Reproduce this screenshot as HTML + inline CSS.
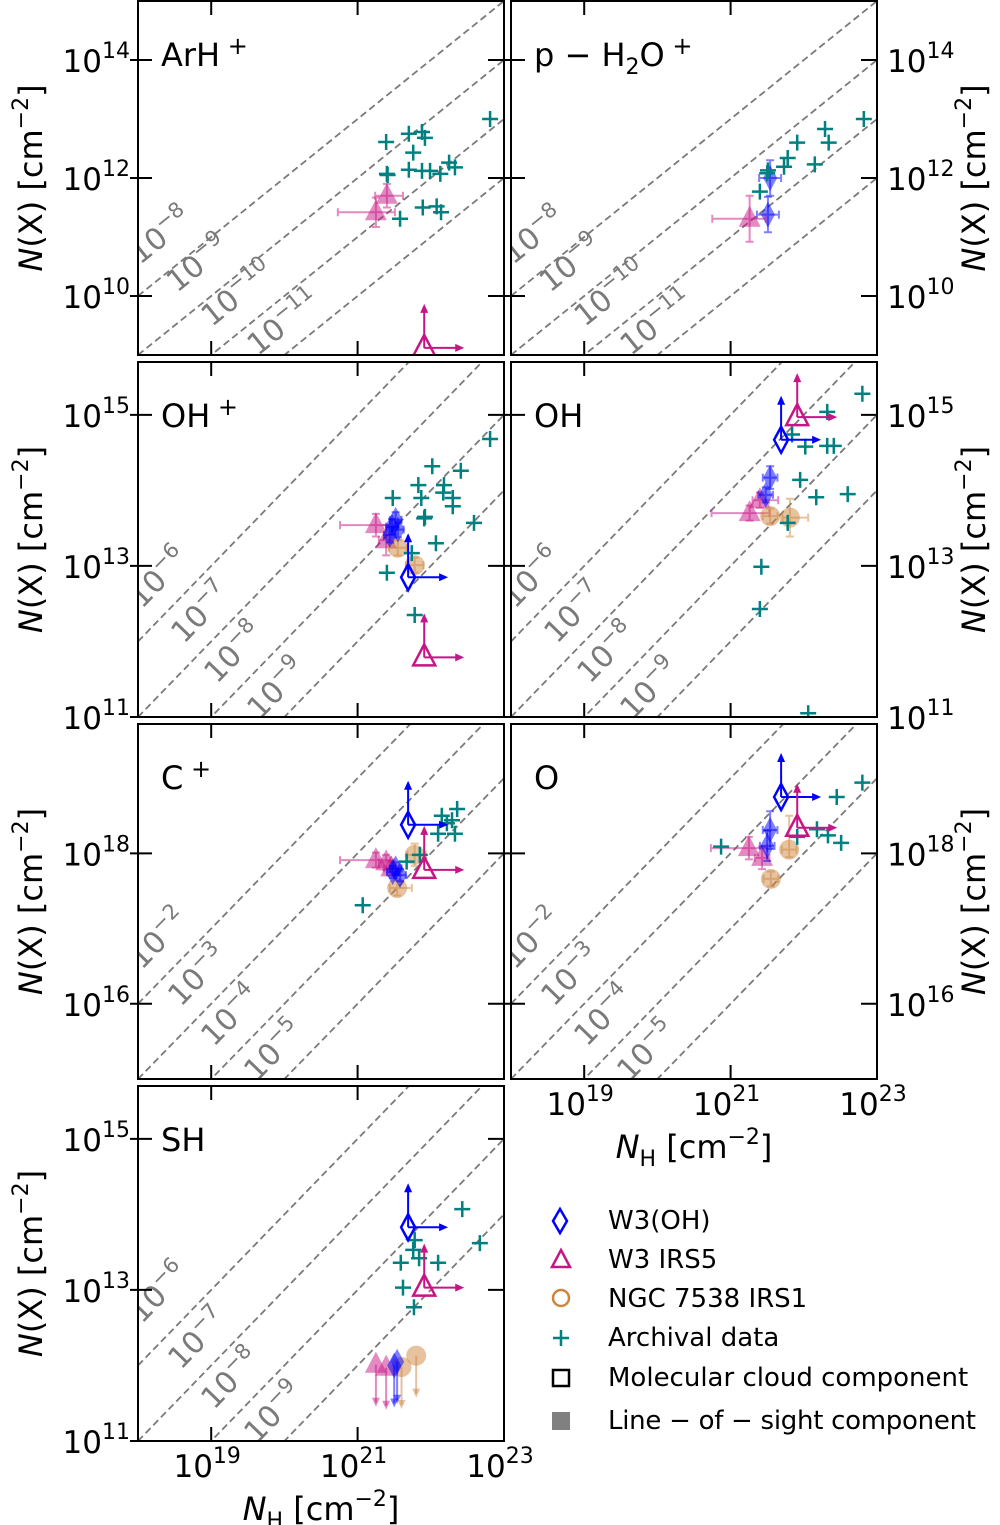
<!DOCTYPE html>
<html><head><meta charset="utf-8">
<style>
body{margin:0;background:#fff}
svg{display:block;font-family:"DejaVu Sans","Liberation Sans",sans-serif}
</style></head>
<body>
<svg id="fig" width="1000" height="1525" viewBox="0 0 1000 1525" xmlns="http://www.w3.org/2000/svg">
<g id="legend" font-size="26">
 <g><polygon points="560,1209 567,1221 560,1233 553,1221" fill="none" stroke="#0000ff" stroke-width="2.5"/><text x="608" y="1229">W3(OH)</text></g>
 <g><polygon points="561,1250 570,1267 552,1267" fill="none" stroke="#c71585" stroke-width="2.5"/><text x="608" y="1268">W3 IRS5</text></g>
 <g><circle cx="561" cy="1298" r="8" fill="none" stroke="#cd853f" stroke-width="2.5"/><text x="608" y="1307">NGC 7538 IRS1</text></g>
 <g><path d="M553 1338H569M561 1330V1346" stroke="#008080" stroke-width="2.5"/><text x="608" y="1346">Archival data</text></g>
 <g><rect x="553" y="1370" width="16" height="16" fill="none" stroke="#000" stroke-width="2.5"/><text x="608" y="1386">Molecular cloud component</text></g>
 <g><rect x="552" y="1412" width="18" height="18" fill="#808080"/><text x="608" y="1429" textLength="368">Line − of − sight component</text></g>
</g>
</svg>
<script>
// ---------- data (log10 values) ----------
const arhArchival=[[21.39,12.61],[21.70,12.75],[21.88,12.78],[21.92,12.68],[21.76,12.43],[21.40,12.07],[21.41,12.05],[21.70,12.14],[21.88,12.12],[21.99,12.12],[22.13,12.07],[22.25,12.26],[22.33,12.18],[22.81,13.00],[21.58,11.31],[21.89,11.50],[22.08,11.52],[22.14,11.42]];
const arhIrs5Los=[[21.40,11.70,0.16,0.22,0.2,0.2],[21.25,11.42,0.52,0.26,0.25,0.25]];
const arhIrs5Mc=[[21.91,9.12]];
const h2oArchival=[[22.82,13.00],[22.29,12.83],[21.91,12.60],[22.34,12.60],[21.78,12.34],[21.73,12.19],[21.51,12.13],[21.50,12.08],[22.15,12.23],[21.40,11.77]];
const h2oW3ohLos=[[21.54,12.0,0.15,0.15,0.3,0.3],[21.51,11.38,0.15,0.15,0.3,0.3]];
const h2oIrs5Los=[[21.26,11.31,0.51,0.22,0.39,0.39]];
const ohpArchival=[[22.81,14.68],[22.02,14.32],[22.41,14.26],[21.83,14.07],[22.18,14.07],[21.87,13.90],[22.17,13.97],[22.30,13.90],[22.30,13.79],[21.48,13.90],[21.92,13.65],[21.91,13.63],[22.07,13.30],[22.59,13.57],[21.74,13.17],[21.40,12.91],[21.78,12.35]];
const ohpW3ohLos=[[21.52,13.61,0.08,0.08,0.1,0.1],[21.47,13.52,0.08,0.08,0.1,0.1],[21.55,13.48,0.08,0.08,0.1,0.1],[21.44,13.41,0.08,0.08,0.1,0.1]];
const ohpIrs5Los=[[21.25,13.54,0.49,0.19,0.15,0.15],[21.39,13.34,0.1,0.1,0.2,0.2]];
const ohpNgcLos=[[21.55,13.24,0.12,0.12,0.1,0.1],[21.78,13.01,0.12,0.12,0.1,0.1]];
const ohpW3ohMc=[[21.69,12.85]];
const ohpIrs5Mc=[[21.91,11.79]];
const ohArchival=[[22.80,15.28],[22.32,15.04],[21.84,14.74],[22.02,14.58],[22.32,14.59],[22.41,14.59],[21.95,14.14],[22.17,13.91],[22.60,13.95],[21.78,13.57],[21.42,12.99],[21.40,12.43],[22.06,11.05]];
const ohW3ohLos=[[21.54,14.17,0.1,0.1,0.15,0.15],[21.48,13.94,0.1,0.1,0.1,0.1]];
const ohIrs5Los=[[21.40,13.87,0.1,0.25,0.1,0.1],[21.26,13.70,0.52,0.27,0.1,0.1]];
const ohNgcLos=[[21.54,13.66,0.1,0.1,0.1,0.1],[21.81,13.64,0.1,0.25,0.25,0.25]];
const ohW3ohMc=[[21.69,14.67]];
const ohIrs5Mc=[[21.91,14.97]];
const cpArchival=[[22.36,18.59],[22.15,18.50],[22.29,18.44],[22.10,18.26],[22.33,18.26],[22.22,18.40],[21.07,17.31],[21.67,17.89],[21.85,17.98]];
const cpW3ohLos=[[21.48,17.75,0.08,0.08,0.08,0.08],[21.58,17.71,0.08,0.08,0.08,0.08],[21.52,17.80,0.08,0.08,0.08,0.08]];
const cpIrs5Los=[[21.25,17.91,0.49,0.2,0.1,0.1],[21.39,17.88,0.1,0.1,0.1,0.1],[21.46,17.80,0.1,0.1,0.1,0.1]];
const cpNgcLos=[[21.78,17.98,0.1,0.15,0.15,0.15],[21.54,17.54,0.1,0.2,0.1,0.1]];
const cpW3ohMc=[[21.69,18.38]];
const cpIrs5Mc=[[21.91,17.78]];
const oArchival=[[22.80,18.94],[22.45,18.75],[22.18,18.32],[22.33,18.24],[22.51,18.14],[21.91,18.22],[20.87,18.09]];
const oW3ohLos=[[21.54,18.31,0.1,0.1,0.25,0.25],[21.50,18.10,0.1,0.1,0.2,0.2]];
const oIrs5Los=[[21.25,18.07,0.52,0.25,0.15,0.15],[21.43,17.94,0.1,0.1,0.15,0.15]];
const oNgcLos=[[21.80,18.05,0.1,0.1,0.1,0.45],[21.55,17.66,0.1,0.1,0.1,0.1]];
const oW3ohMc=[[21.69,18.75]];
const oIrs5Mc=[[21.91,18.34]];
const shArchival=[[22.43,14.07],[22.67,13.62],[21.78,13.66],[21.76,13.53],[21.84,13.42],[21.59,13.36],[22.10,13.36],[21.62,13.03],[21.77,12.77]];
const shW3ohMc=[[21.69,13.83]];
const shIrs5Mc=[[21.91,13.03]];
const shIrs5Ul=[[21.25,12.01],[21.39,11.97]];
const shW3ohUl=[[21.54,12.05],[21.50,12.0]];
const shNgcUl=[[21.80,12.13],[21.60,11.98]];
const ratiosA=[-8,-9,-10,-11];
const ratiosB=[-6,-7,-8,-9];
const ratiosC=[-2,-3,-4,-5];

// ---------- drawing ----------
const NS='http://www.w3.org/2000/svg';
const svg=document.getElementById('fig');
const BLUE='#0000ff',PINK='#c71585',ORNG='#cd853f',TEAL='#008080';
function mk(tag,attrs,parent){const e=document.createElementNS(NS,tag);for(const k in attrs)e.setAttribute(k,attrs[k]);(parent||svg).appendChild(e);return e;}

function panel(c){
  const g=mk('g',{});
  
  
  const sx=lx=>c.x0+(lx-18)/5*(c.x1-c.x0);
  const sy=ly=>c.y1-(ly-c.lo)/(c.hi-c.lo)*(c.y1-c.y0);
  const cid='clip-'+c.name;
  const cp=mk('clipPath',{id:cid},g);mk('rect',{x:c.x0,y:c.y0,width:c.x1-c.x0,height:c.y1-c.y0},cp);
  const plot=mk('g',{'clip-path':'url(#'+cid+')'},g);
  const ang=-Math.atan((sy(0)-sy(1))/(sx(1)-sx(0)))*180/Math.PI;
  c.ratios.forEach((r,i)=>{
    const ln=mk('line',{x1:sx(18),y1:sy(18+r),x2:sx(23),y2:sy(23+r),stroke:'#7a7a7a','stroke-width':1.8,'stroke-dasharray':'7,4'},plot);
    
    
    const p=c.lbl[i];
    const t=mk('text',{x:p[0],y:p[1]+11,fill:'#7a7a7a','font-size':30,'text-anchor':'middle',transform:`rotate(${ang} ${p[0]} ${p[1]})`},plot);
    
    
    t.innerHTML=`10<tspan dy="-13" font-size="21">−${-r}</tspan>`;
  });
  const drawErr=(x,y,d,col)=>{
    const a=sx(x-d[2]),b=sx(x+d[3]),u=sy(y+d[5]),v=sy(y-d[4]);
    const X=sx(x),Y=sy(y);
    mk('path',{d:`M${a} ${Y}H${b}M${a} ${Y-4}V${Y+4}M${b} ${Y-4}V${Y+4}M${X} ${u}V${v}M${X-4} ${u}H${X+4}M${X-4} ${v}H${X+4}`,stroke:col,'stroke-width':2,fill:'none',opacity:0.5},plot);
  };
  const shape=(kind,X,Y,col,filled)=>{
    const st=filled?{fill:col,'fill-opacity':0.5,stroke:'none'}:{fill:'none',stroke:col,'stroke-width':2.5};
    if(kind==='d')return mk('polygon',Object.assign({points:`${X},${Y-13} ${X+7},${Y} ${X},${Y+13} ${X-7},${Y}`},st),plot);
    if(kind==='t')return mk('polygon',Object.assign({points:`${X},${Y-13} ${X+11},${Y+8} ${X-11},${Y+8}`},st),plot);
    return mk('circle',Object.assign({cx:X,cy:Y,r:10},st),plot);
  };
  const arrow=(X,Y,dx,dy,col,op)=>{
    const ex=X+dx,ey=Y+dy;
    mk('line',{x1:X,y1:Y,x2:ex,y2:ey,stroke:col,'stroke-width':2,opacity:op},plot);
    let pts;
    if(dy<0)pts=`${ex},${ey-4} ${ex+4},${ey+5} ${ex-4},${ey+5}`;
    else if(dy>0)pts=`${ex},${ey+4} ${ex+4},${ey-5} ${ex-4},${ey-5}`;
    else pts=`${ex+4},${ey} ${ex-5},${ey-4} ${ex-5},${ey+4}`;
    mk('polygon',{points:pts,fill:col,opacity:op},plot);
  };
  (c.los||[]).forEach(s=>s.data.forEach(d=>{
    drawErr(d[0],d[1],d,s.col);
    const m=shape(s.kind,sx(d[0]),sy(d[1]),s.col,true);
    
    
  }));
  (c.ul||[]).forEach(s=>s.data.forEach(d=>{
    const X=sx(d[0]),Y=sy(d[1]);
    arrow(X,Y,0,38,s.col,0.5);
    const m=shape(s.kind,X,Y,s.col,true);
    
    
  }));
  (c.arch||[]).forEach(d=>{
    const X=sx(d[0]),Y=sy(d[1]);
    const m=mk('path',{d:`M${X-8} ${Y}H${X+8}M${X} ${Y-8}V${Y+8}`,stroke:TEAL,'stroke-width':2.5},plot);
    
    
  });
  (c.mc||[]).forEach(s=>s.data.forEach(d=>{
    const X=sx(d[0]),Y=sy(d[1]);
    arrow(X,Y,0,-40,s.col,1);arrow(X,Y,36,0,s.col,1);
    const m=shape(s.kind,X,Y,s.col,false);
    
    
  }));
  const fr=mk('rect',{x:c.x0,y:c.y0,width:c.x1-c.x0,height:c.y1-c.y0,fill:'none',stroke:'#000','stroke-width':2},g);
  
  
  [19,21,23].forEach(t=>{const X=sx(t);mk('path',{d:`M${X} ${c.y0}v14M${X} ${c.y1}v-14`,stroke:'#000','stroke-width':2},g);});
  c.yt.forEach(t=>{const Y=sy(t);mk('path',{d:`M${c.x0-8} ${Y}h22M${c.x1} ${Y}h-16`,stroke:'#000','stroke-width':2},g);
    if(c.ylab){
      const lbl=c.ylab==='l'?mk('text',{x:c.x0-8,y:Y+12,'text-anchor':'end','font-size':31},g):mk('text',{x:c.x1+10,y:Y+12,'font-size':31},g);
      
      
      lbl.innerHTML=`10<tspan dy="-14" font-size="22">${t}</tspan>`;
    }});
  if(c.xlab){[19,21,23].forEach(t=>{const X=sx(t);
    const lbl=mk('text',{x:X-4,y:c.y1+36,'text-anchor':'middle','font-size':31},g);
    
    
    lbl.innerHTML=`10<tspan dy="-14" font-size="22">${t}</tspan>`;});
    const xt=mk('text',{x:(c.x0+c.x1)/2,y:c.y1+79,'text-anchor':'middle','font-size':32},g);
    
    
    xt.innerHTML=`<tspan font-style="italic">N</tspan><tspan font-size="22" dy="8">H</tspan><tspan dy="-8"> [cm</tspan><tspan font-size="22" dy="-14">−2</tspan><tspan dy="14">]</tspan>`;
  }
  if(c.ylab){
    const cx=c.ylab==='l'?42:985, cy=(c.y0+c.y1)/2;
    const yt=mk('text',{x:cx,y:cy,'text-anchor':'middle','font-size':32,transform:`rotate(-90 ${cx} ${cy})`},g);
    
    
    yt.innerHTML=`<tspan font-style="italic">N</tspan>(X) [cm<tspan font-size="22" dy="-14">−2</tspan><tspan dy="14">]</tspan>`;
  }
  const tt=mk('text',{x:c.x0+23,y:c.y0+65,'font-size':32},g);
  
  
  tt.innerHTML=c.title;
}
const L=[138,504],R=[511,877];
const lblA=[[160,235],[197,263],[237,293],[283,322]];
const lblB=[[158,577],[200,612],[233,652],[276,688]];
const lblC=[[158,938],[197,975],[230,1015],[273,1050]];
const lblD=[[158,1292],[197,1338],[230,1378],[273,1412]];
const sh=(a,dx)=>a.map(p=>[p[0]+dx,p[1]]);
panel({name:'panel-arh',x0:L[0],x1:L[1],y0:1,y1:355,lo:9,hi:15,ratios:ratiosA,lbl:lblA,yt:[10,12,14],ylab:'l',title:'ArH<tspan dy="-12" font-size="24"> +</tspan>',
 arch:arhArchival,los:[{data:arhIrs5Los,col:PINK,kind:'t'}],mc:[{data:arhIrs5Mc,col:PINK,kind:'t'}]});
panel({name:'panel-ph2o',x0:R[0],x1:R[1],y0:1,y1:355,lo:9,hi:15,ratios:ratiosA,lbl:sh(lblA,373),yt:[10,12,14],ylab:'r',title:'p − H<tspan dy="8" font-size="22">2</tspan><tspan dy="-8">O</tspan><tspan dy="-12" font-size="24"> +</tspan>',
 arch:h2oArchival,los:[{data:h2oW3ohLos,col:BLUE,kind:'d'},{data:h2oIrs5Los,col:PINK,kind:'t'}]});
panel({name:'panel-ohp',x0:L[0],x1:L[1],y0:362,y1:717,lo:11,hi:15.7,ratios:ratiosB,lbl:lblB,yt:[11,13,15],ylab:'l',title:'OH<tspan dy="-12" font-size="24"> +</tspan>',
 arch:ohpArchival,los:[{data:ohpIrs5Los,col:PINK,kind:'t'},{data:ohpNgcLos,col:ORNG,kind:'c'},{data:ohpW3ohLos,col:BLUE,kind:'d'}],mc:[{data:ohpW3ohMc,col:BLUE,kind:'d'},{data:ohpIrs5Mc,col:PINK,kind:'t'}]});
panel({name:'panel-oh',x0:R[0],x1:R[1],y0:362,y1:717,lo:11,hi:15.7,ratios:ratiosB,lbl:sh(lblB,373),yt:[11,13,15],ylab:'r',title:'OH',
 arch:ohArchival,los:[{data:ohIrs5Los,col:PINK,kind:'t'},{data:ohNgcLos,col:ORNG,kind:'c'},{data:ohW3ohLos,col:BLUE,kind:'d'}],mc:[{data:ohW3ohMc,col:BLUE,kind:'d'},{data:ohIrs5Mc,col:PINK,kind:'t'}]});
panel({name:'panel-cplus',x0:L[0],x1:L[1],y0:724,y1:1079,lo:15,hi:19.72,ratios:ratiosC,lbl:lblC,yt:[16,18],ylab:'l',title:'C<tspan dy="-12" font-size="24"> +</tspan>',
 arch:cpArchival,los:[{data:cpIrs5Los,col:PINK,kind:'t'},{data:cpNgcLos,col:ORNG,kind:'c'},{data:cpW3ohLos,col:BLUE,kind:'d'}],mc:[{data:cpW3ohMc,col:BLUE,kind:'d'},{data:cpIrs5Mc,col:PINK,kind:'t'}]});
panel({name:'panel-o',x0:R[0],x1:R[1],y0:724,y1:1079,lo:15,hi:19.72,ratios:ratiosC,lbl:sh(lblC,373),yt:[16,18],ylab:'r',xlab:true,title:'O',
 arch:oArchival,los:[{data:oIrs5Los,col:PINK,kind:'t'},{data:oNgcLos,col:ORNG,kind:'c'},{data:oW3ohLos,col:BLUE,kind:'d'}],mc:[{data:oW3ohMc,col:BLUE,kind:'d'},{data:oIrs5Mc,col:PINK,kind:'t'}]});
panel({name:'panel-sh',x0:L[0],x1:L[1],y0:1086,y1:1441,lo:11,hi:15.7,ratios:ratiosB,lbl:lblD,yt:[11,13,15],ylab:'l',xlab:true,title:'SH',
 arch:shArchival,ul:[{data:shIrs5Ul,col:PINK,kind:'t'},{data:shNgcUl,col:ORNG,kind:'c'},{data:shW3ohUl,col:BLUE,kind:'d'}],mc:[{data:shW3ohMc,col:BLUE,kind:'d'},{data:shIrs5Mc,col:PINK,kind:'t'}]});
</script>
</body></html>
